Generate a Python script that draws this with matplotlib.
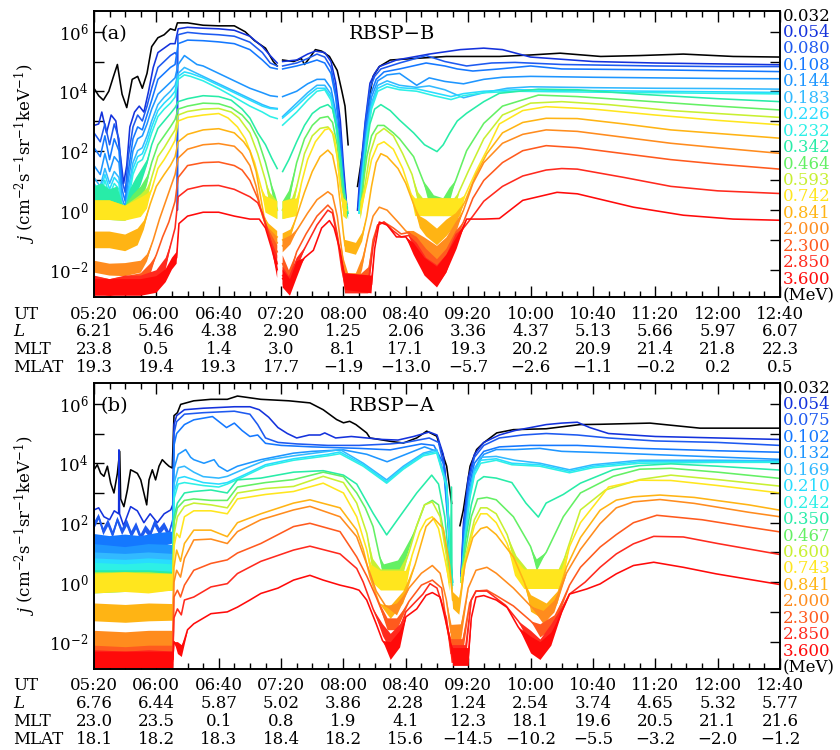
import numpy as np
import matplotlib
matplotlib.use("Agg")
import matplotlib.pyplot as plt
from matplotlib.ticker import FixedLocator, NullFormatter, FuncFormatter

plt.rcParams['font.family'] = ['DejaVu Serif']
plt.rcParams['mathtext.fontset'] = 'dejavuserif'

# ---------------- labels / table ----------------
UT = ['05:20', '06:00', '06:40', '07:20', '08:00', '08:40', '09:20', '10:00', '10:40', '11:20', '12:00', '12:40']
A_L = ['6.21', '5.46', '4.38', '2.90', '1.25', '2.06', '3.36', '4.37', '5.13', '5.66', '5.97', '6.07']
A_MLT = ['23.8', '0.5', '1.4', '3.0', '8.1', '17.1', '19.3', '20.2', '20.9', '21.4', '21.8', '22.3']
A_MLAT = ['19.3', '19.4', '19.3', '17.7', '\u22121.9', '\u221213.0', '\u22125.7', '\u22122.6', '\u22121.1', '\u22120.2', '0.2', '0.5']
B_L = ['6.76', '6.44', '5.87', '5.02', '3.86', '2.28', '1.24', '2.54', '3.74', '4.65', '5.32', '5.77']
B_MLT = ['23.0', '23.5', '0.1', '0.8', '1.9', '4.1', '12.3', '18.1', '19.6', '20.5', '21.1', '21.6']
B_MLAT = ['18.1', '18.2', '18.3', '18.4', '18.2', '15.6', '\u221214.5', '\u221210.2', '\u22125.5', '\u22123.2', '\u22122.0', '\u22121.2']

A_E = ['0.032', '0.054', '0.080', '0.108', '0.144', '0.183', '0.226', '0.232', '0.342', '0.464',
       '0.593', '0.742', '0.841', '2.000', '2.300', '2.850', '3.600']
B_E = ['0.032', '0.054', '0.075', '0.102', '0.132', '0.169', '0.210', '0.242', '0.350', '0.467',
       '0.600', '0.743', '0.841', '2.000', '2.300', '2.850', '3.600']
COLORS = ['#000000', '#1432dc', '#1e5af0', '#1478ff', '#1e96ff', '#32b9ff', '#28dcff', '#2df0e6',
          '#28eca8', '#64f064', '#c8f032', '#ffe61e', '#ffb414', '#ff8c1e', '#ff5a1e', '#ff2a1e', '#ff0a0a']

# ---------------- panel (a) RBSP-B : (minutes after 05:20, log10 j [, noise half-width]) ----------------
A00 = [(0,4.1),(3,3.85),(6,3.7),(9.5,4.0),(12.5,4.5),(15,4.9),(18,3.9),(21,3.45),(24.5,4.4),(28,4.5),(31,4.1),(34,4.6),(37,5.5),(41,5.8),(45,5.9),(49,6.1),(52,6.05),(53.5,6.3),(60,6.3),(70,6.22),(80,6.2),(90,6.2),(97,6.0),(103,5.7),(110,5.45),(115,5.0),(117.5,4.85),(118,None),(121,5.05),(128,5.0),(133,5.1),(135,4.9),(138,5.1),(142,5.4),(146,5.35),(151,5.17),(156,4.7),(159,4.0),(161,3.5),(163,2.2),(164,None),(169,0.8),(173,2.2),(176,3.6),(179,4.5),(183,4.83),(190,5.05),(205,5.1),(226,5.17),(248,5.17),(260,5.17),(280,5.22),(299,5.28),(325,5.17),(350,5.2),(378,5.25),(410,5.17),(440,5.15)]
A01 = [(0,2.85),(3,2.9),(5,3.3),(8,2.6),(11,3.2),(14,3.0),(17,1.8),(19,0.9),(21,1.5),(23,2.8),(26,3.3),(29,3.5),(32,3.3),(35,4.0),(38,4.8),(41,5.3),(45,5.45),(49,5.6),(52,5.6),(54,6.1),(60,6.15),(70,6.12),(80,6.1),(90,6.05),(100,5.85),(108,5.5),(113,5.2),(117.5,4.95),(118,None),(121,5.0),(130,5.05),(137,5.25),(142,5.35),(148,5.3),(152,5.0),(155,4.3),(158,3.0),(160,1.5),(162,0.2),(163,None),(169,0.0),(170.5,1.1),(174,3.0),(177,4.27),(180,4.6),(183,4.83),(194,5.05),(215,5.25),(235,5.4),(250,5.45),(262,5.4),(280,5.15),(320,5.0),(360,4.95),(400,4.92),(440,4.89)]
A02 = [(0,2.6),(4,2.3),(7,2.9),(10,2.2),(13,2.9),(16,2.4),(18,1.0),(20,0.6),(22,1.8),(25,2.8),(28,3.2),(31,3.0),(34,3.5),(37,4.1),(41,4.8),(45,5.0),(49,5.2),(52,5.3),(53.3,5.2),(53.5,0.0),(53.8,5.9),(60,5.98),(70,5.93),(80,5.9),(90,5.85),(100,5.65),(108,5.3),(113,4.95),(117.5,4.85),(118,None),(121,4.85),(130,4.95),(137,5.1),(143,5.25),(148,5.15),(152,4.8),(155,4.0),(158,2.6),(160,1.2),(162,0.1),(163,None),(169.5,0.1),(171,1.2),(174,2.9),(177,4.1),(180,4.5),(184,4.75),(196,4.95),(213,5.2),(225,5.0),(239,4.85),(255,4.95),(270,4.97),(300,4.9),(360,4.85),(400,4.83),(440,4.83)]
A03 = [(0,2.1),(4,1.8),(7,2.5),(10,1.7),(13,2.4),(16,2.0),(18,0.7),(20,0.3),(22,1.3),(25,2.4),(28,2.8),(31,2.7),(34,3.2),(37,3.7),(41,4.4),(45,4.6),(49,4.8),(52,4.9),(54,5.6),(60,5.72),(70,5.7),(80,5.66),(90,5.6),(100,5.4),(108,5.05),(113,4.8),(117.5,4.75),(118,None),(121,4.75),(130,4.85),(137,4.95),(143,5.05),(148,4.95),(152,4.6),(155,3.8),(158,2.3),(160,1.0),(162,0.0),(163,None),(170,0.2),(171.5,1.3),(174.5,2.8),(177.5,3.9),(181,4.4),(186,4.65),(196,4.75),(213,4.95),(225,4.85),(233,4.75),(243,4.68),(260,4.75),(280,4.85),(300,4.75),(360,4.72),(400,4.69),(440,4.66)]
A04 = [(0,1.5),(4,1.2),(7,1.9),(10,1.3),(13,1.8),(16,1.6),(18,0.4),(20,0.1),(22,1.0),(25,2.0),(28,2.4),(31,2.5),(34,2.9),(37,3.4),(41,3.9),(45,4.1),(49,4.3),(52,4.45),(54,4.9),(58,5.2),(62,5.05),(66,4.9),(70,4.85),(80,4.6),(90,4.35),(100,4.1),(108,3.95),(113,3.85),(117.5,3.82),(118,None),(121,3.82),(130,4.0),(137,4.25),(143,4.4),(148,4.4),(152,4.1),(155,3.3),(158,2.0),(160,0.9),(162,0.0),(163,None),(170,0.0),(172,1.3),(175,2.8),(178,3.8),(182,4.35),(188,4.55),(196,4.6),(207,4.2),(215,4.45),(225,4.33),(237,4.25),(250,4.4),(262,4.47),(280,4.5),(320,4.47),(360,4.45),(400,4.43),(440,4.42)]
A05 = [(0,1.1),(4,0.8),(7,1.4),(10,0.9),(13,1.3),(16,1.1),(18,0.2),(20,-0.1),(22,0.7),(25,1.6),(28,2.0),(31,2.1),(34,2.5),(37,3.0),(41,3.55),(45,3.8),(49,4.0),(52,4.2),(54,4.6),(58,4.8),(62,4.7),(70,4.5),(80,4.25),(90,4.0),(100,3.75),(108,3.55),(113,3.45),(117.5,3.42),(118,None),(121,3.15),(130,3.6),(137,3.95),(143,4.2),(148,4.2),(152,3.9),(155,3.1),(158,1.8),(160,0.7),(162,0.0),(163,None),(170,0.0),(172,1.2),(175,2.6),(178,3.6),(182,4.2),(188,4.35),(196,4.2),(207,4.13),(215,4.18),(225,4.05),(237,3.78),(250,3.95),(265,4.1),(280,4.15),(320,4.12),(360,4.1),(400,4.09),(440,4.07)]
A06 = [(0,0.9),(4,0.6),(7,1.2),(10,0.7),(13,1.1),(16,0.9),(18,0.0),(20,-0.2),(22,0.5),(25,1.4),(28,1.8),(31,1.9),(34,2.3),(37,2.8),(41,3.35),(45,3.6),(49,3.8),(52,4.0),(54,4.5),(58,4.65),(62,4.6),(70,4.45),(80,4.2),(90,3.95),(100,3.7),(108,3.5),(113,3.42),(117.5,3.4),(118,None),(121,3.1),(130,3.5),(137,3.85),(143,4.1),(148,4.1),(152,3.8),(155,3.0),(158,1.7),(160,0.6),(162,-0.1),(163,None),(170,-0.1),(172,1.1),(175,2.5),(178,3.5),(182,4.1),(188,4.25),(196,4.12),(207,4.08),(218,3.95),(229,3.82),(237,3.92),(250,4.0),(270,4.05),(320,4.02),(360,4.0),(400,3.98),(440,3.96)]
A07 = [(0,0.7),(4,0.4),(7,1.0),(10,0.5),(13,0.9),(16,0.7),(18,-0.1),(20,-0.3),(22,0.3),(25,1.2),(28,1.6),(31,1.7),(34,2.1),(37,2.6),(41,3.15),(45,3.4),(49,3.6),(52,3.8),(54,4.4),(58,4.55),(62,4.5),(70,4.35),(80,4.09),(90,3.8),(100,3.5),(108,3.3),(113,3.15),(117.5,3.08),(118,None),(121,2.86),(130,3.3),(137,3.7),(143,4.0),(148,4.05),(152,3.7),(155,2.9),(158,1.6),(160,0.5),(162,-0.1),(163,None),(170,-0.1),(172,1.0),(175,2.4),(178,3.4),(182,4.0),(188,4.15),(196,4.05),(207,4.0),(218,3.85),(229,3.72),(237,3.85),(250,3.95),(270,4.0),(320,3.97),(360,3.95),(400,3.93),(440,3.91)]
A08 = [(0,0.5,0.3),(5,0.6,0.3),(10,0.4,0.3),(15,0.5,0.3),(18,0.0,0.25),(20,-0.1,0.2),(23,0.4,0.3),(27,0.8,0.3),(30,1.1,0.25),(34,1.6,0.1),(37,2.2),(41,2.75),(45,3.0),(49,3.25),(52,3.45),(54,3.65),(60,3.75),(70,3.85),(80,3.82),(88,3.7),(95,3.4),(100,3.1),(105,2.6),(110,2.2),(114,1.75),(117.5,1.4),(118,None),(121,1.3),(125,1.7),(130,2.3),(135,2.85),(140,3.25),(145,3.45),(150,3.55),(153,3.4),(156,2.7),(158,1.8),(160,0.8),(161.5,0.2,0.25),(163,-0.1,0.2),(163.5,None),(171,0.0,0.2),(172.5,0.8),(174,1.8),(177,2.9),(180,3.4),(184,3.55),(190,3.35),(196,3.03),(205,2.6),(212,2.2),(220,1.97),(224,2.2),(228,2.58),(233,3.0),(239,3.26),(250,3.65),(260,3.93),(285,4.07),(310,4.05),(350,3.9),(400,3.75),(440,3.65)]
A09 = [(0,0.0,0.33),(10,0.0,0.33),(18,-0.1,0.25),(20,-0.1,0.25),(25,0.2,0.33),(30,0.5,0.3),(34,1.0,0.15),(37,1.6),(41,2.2),(45,2.5),(49,2.8),(52,3.05),(54,3.4),(60,3.5),(70,3.6),(80,3.58),(88,3.45),(95,3.2),(100,2.9),(105,2.4),(110,1.6),(113,1.0),(116,0.3,0.28),(117.5,0.0,0.3),(118,None),(121,0.0,0.3),(125,0.4,0.25),(130,1.6),(135,2.4),(140,2.85),(145,3.1),(150,3.15),(153,2.95),(156,2.2),(158,1.2),(160,0.3,0.28),(162,0.0,0.3),(163,None),(171,0.0,0.3),(173,1.0),(175,1.8),(178,2.5),(182,2.85),(186,2.85),(192,2.6),(196,2.4),(205,1.8),(211,1.0),(214,0.6,0.2),(218,0.2,0.3),(224,0.1,0.3),(228,0.5,0.25),(232,1.0),(239,2.0),(250,2.92),(262,3.5),(285,3.87),(310,3.82),(350,3.68),(400,3.5),(440,3.37)]
A10 = [(0,0.0,0.33),(10,0.0,0.33),(20,-0.1,0.25),(30,0.2,0.33),(34,0.5,0.25),(37,1.1),(41,1.8),(45,2.1),(49,2.45),(52,2.7),(54,3.2),(60,3.32),(70,3.4),(80,3.42),(88,3.3),(93,3.1),(100,2.6),(105,1.9),(110,1.0),(113,0.3,0.28),(117.5,0.0,0.3),(118,None),(121,0.0,0.3),(127,0.1,0.3),(131,1.0),(135,1.9),(140,2.5),(145,2.75),(150,2.8),(153,2.6),(156,1.8),(158,0.8),(160,0.1,0.3),(162,0.0,0.3),(163,None),(171,0.0,0.3),(174,0.9),(177,1.9),(181,2.55),(186,2.75),(192,2.5),(198,1.9),(204,1.2),(208,0.4,0.2),(211,0.1,0.3),(231,0.1,0.3),(234,0.6),(240,1.3),(250,2.4),(262,3.2),(280,3.6),(300,3.65),(330,3.55),(370,3.35),(400,3.25),(440,3.12)]
A11 = [(0,0.0,0.33),(10,0.0,0.33),(20,-0.1,0.25),(30,0.1,0.33),(34,0.3,0.25),(37,0.7),(41,1.4),(45,1.7),(49,2.05),(52,2.35),(54,3.0),(60,3.12),(70,3.2),(80,3.25),(86,3.1),(92,2.8),(97,2.4),(103,1.6),(107,0.8),(110,0.2,0.28),(117.5,0.0,0.3),(118,None),(121,0.0,0.3),(130,0.1,0.3),(133,0.9),(137,1.7),(142,2.3),(148,2.7),(151,2.75),(154,2.5),(156,1.8),(158,0.8),(160,0.1,0.3),(162,0.0,0.3),(163,None),(171,0.0,0.3),(175,0.9),(178,1.7),(182,2.2),(186,2.3),(192,2.05),(198,1.4),(203,0.6),(206,0.1,0.3),(235,0.1,0.3),(238,0.5),(245,1.3),(252,2.02),(260,2.9),(275,3.35),(290,3.48),(320,3.4),(360,3.2),(400,3.02),(440,2.87)]
A12 = [(0,-1.0,0.28),(10,-1.0,0.28),(20,-1.1,0.28),(28,-0.9,0.28),(32,-0.5,0.15),(36,0.2),(40,0.8),(45,1.2),(49,1.5),(52,1.8),(54,2.3),(60,2.55),(70,2.7),(80,2.74),(90,2.6),(96,2.3),(100,2.0),(104,1.3),(107,0.4),(109,-0.2),(112,-0.6,0.15),(117.5,-0.9,0.2),(118,None),(121,-1.0,0.22),(126,-0.8,0.15),(130,-0.2),(135,0.6),(140,1.3),(145,1.8),(150,2.02),(153,1.85),(156,1.1),(158,0.2),(160,-0.8),(161,-1.2,0.2),(168,-1.3,0.2),(172,-0.9,0.15),(175,-0.2),(178,0.8),(181,1.6),(184,1.9),(188,1.8),(195,1.4),(200,0.9),(205,0.2),(209,-0.4,0.2),(213,-0.6,0.28),(220,-0.9,0.28),(226,-0.6,0.28),(232,-0.3,0.2),(238,0.3),(245,1.2),(252,1.9),(262,2.6),(275,2.95),(290,3.09),(310,3.08),(340,2.9),(370,2.7),(400,2.58),(440,2.42)]
A13 = [(0,-1.9,0.2),(10,-2.0,0.2),(20,-2.0,0.22),(30,-1.9,0.2),(34,-1.6,0.12),(38,-1.0),(42,-0.3),(46,0.3),(50,0.9),(52,1.2),(54,1.75),(60,2.05),(70,2.2),(80,2.24),(90,2.15),(95,1.9),(100,1.5),(104,0.8),(107,0.0),(110,-0.5),(113,-0.8,0.15),(117.5,-1.1,0.2),(118,None),(121,-1.2,0.22),(126,-1.0,0.15),(131,-0.6),(137,-0.1),(143,0.35),(150,0.62),(153,0.5),(156,-0.2),(158,-1.0),(160,-1.8,0.2),(163,-2.4,0.28),(168,-2.4,0.28),(172,-1.8,0.2),(176,-0.8),(179,-0.2),(183,0.1),(188,0.0),(195,-0.4),(200,-0.7),(205,-0.9,0.2),(212,-1.2,0.28),(220,-1.5,0.3),(226,-1.2,0.28),(232,-0.6,0.2),(237,0.0),(243,0.9),(250,1.6),(262,2.25),(275,2.55),(290,2.7),(310,2.65),(340,2.45),(370,2.25),(400,2.1),(440,1.91)]
A14 = [(0,-2.5,0.28),(10,-2.6,0.28),(20,-2.5,0.28),(30,-2.4,0.28),(36,-2.0,0.2),(40,-1.5),(44,-0.9),(48,-0.4),(52,0.3),(54,1.1),(60,1.5),(70,1.6),(80,1.62),(90,1.5),(95,1.35),(100,1.0),(105,0.4),(108,-0.15),(112,-0.8,0.15),(117.5,-1.4,0.22),(118,None),(121,-1.8,0.28),(125,-2.3,0.28),(130,-1.4),(136,-0.8),(143,-0.2),(150,0.17),(153,0.0),(156,-0.8),(159,-1.8),(161,-2.4,0.28),(170,-2.5,0.3),(176,-2.2,0.28),(179,-1.0),(182,-0.5),(186,-0.4),(192,-0.6),(197,-0.8),(202,-0.75),(207,-1.1,0.2),(213,-1.6,0.3),(220,-2.0,0.35),(226,-1.6,0.3),(232,-0.9,0.2),(237,-0.4),(243,0.4),(250,1.0),(262,1.6),(275,2.0),(290,2.17),(310,2.1),(340,1.9),(370,1.7),(400,1.55),(440,1.38)]
A15 = [(0,-2.5,0.3),(10,-2.6,0.28),(20,-2.5,0.3),(30,-2.5,0.3),(40,-2.3,0.28),(46,-1.8,0.2),(50,-1.0),(52,-0.6),(54,0.45),(60,0.7),(70,0.82),(80,0.83),(90,0.7),(100,0.45),(105,0.25),(108,-0.1),(112,-0.8),(117.5,-1.8,0.28),(118,None),(121,-2.2,0.3),(125,-2.5,0.28),(130,-1.8,0.2),(136,-1.2),(143,-0.5),(150,0.0),(153,-0.1),(156,-0.9),(159,-2.0),(161,-2.5,0.3),(176,-2.5,0.3),(179,-1.2),(182,-0.5),(186,-0.4),(192,-0.7),(197,-0.9),(202,-0.85),(207,-1.3,0.2),(213,-1.9,0.3),(220,-2.2,0.35),(226,-1.8,0.3),(232,-1.0,0.2),(237,-0.6),(243,-0.2),(250,0.3),(262,0.8),(275,1.15),(290,1.35),(300,1.4),(310,1.38),(340,1.1),(370,0.8),(400,0.65),(440,0.56)]
A16 = [(0,-2.6,0.28),(10,-2.6,0.28),(20,-2.6,0.28),(30,-2.6,0.28),(40,-2.5,0.28),(46,-2.2,0.22),(50,-1.8,0.2),(53,-1.6,0.2),(54.5,-0.45),(60,-0.2),(70,-0.07),(80,-0.07),(90,-0.2),(100,-0.3),(106,-0.3),(110,-0.6),(114,-1.3),(117.5,-2.0,0.28),(118,None),(121,-2.3,0.3),(125.7,-2.6,0.28),(130,-2.0,0.28),(135,-1.6),(140.7,-1.35),(146,-0.6),(151,-0.35),(154,-0.6),(157.8,-1.35),(161,-2.4,0.28),(178,-2.5,0.3),(180,-1.3),(183,-0.4),(188,-0.5),(194,-0.9),(200,-0.9),(205,-1.3,0.2),(212,-1.9,0.3),(220,-2.25,0.35),(226,-1.8,0.3),(232.6,-1.1,0.2),(239,-0.3),(250,-0.3),(260,-0.28),(275,0.33),(297,0.6),(310,0.55),(346,0.1),(378,-0.17),(410,-0.3),(440,-0.34)]

# ---------------- panel (b) RBSP-A ----------------
B00 = [(0,3.78),(2.1,3.95),(4.3,3.66),(6.4,3.56),(8.6,3.9),(10.7,3.33),(12.8,3.0),(15,3.66),(16.5,4.4),(17.1,2.8),(19.2,2.54),(21.4,3.1),(23.5,3.78),(25.7,3.72),(27.8,3.66),(30,3.44),(32,3.0),(33.8,2.6),(35.3,3.44),(37.4,3.78),(39.5,3.44),(41.7,3.9),(43.8,4.12),(46,4.0),(48.1,3.9),(50.2,3.84),(51.3,5.6),(53.5,5.7),(55.6,5.98),(64,6.1),(75,6.15),(85.5,6.15),(92,6.26),(107,6.15),(125,6.1),(138.5,6.03),(147,5.8),(155.6,5.47),(160,5.36),(164,5.41),(168,5.3),(174.9,5.02),(177,4.85),(189.8,4.74),(198.4,4.68),(207,4.85),(213.4,5.08),(219.8,4.91),(226.2,3.9),(229.4,2.65),(230,None),(234.7,1.9),(236.9,2.43),(241.2,3.9),(245.4,4.46),(249.7,4.68),(258.3,5.02),(269,5.13),(290,5.16),(311.7,5.3),(324.6,5.31),(356.6,5.35),(388.7,5.18),(440,5.18)]
B01 = [(0,2.43),(3,2.5),(6.4,2.2),(10,2.1),(13,2.4),(15.8,2.3),(16,4.45),(16.4,2.3),(19,1.9),(23.5,2.54),(27.8,2.4),(32,2.0),(36,2.3),(40.6,2.0),(45,2.3),(49.2,2.43),(50.5,2.6),(51.3,5.3),(53,5.6),(58,5.8),(70,5.85),(90,5.9),(100,5.9),(106,5.8),(112,5.55),(118,5.2),(124,5.0),(130,4.85),(138,4.95),(145,4.95),(148,5.02),(155,4.85),(165,4.9),(175,4.85),(185,4.8),(195,4.78),(205,4.9),(215,5.05),(220,4.95),(224,4.3),(226.5,3.0),(228.5,1.0),(229.5,0.1),(230,None),(235.5,0.3),(237,2.0),(240,3.5),(244,4.3),(250,4.7),(260,4.95),(270,5.1),(280,5.2),(290,5.3),(300,5.35),(310,5.38),(318,5.2),(330,5.0),(360,4.9),(400,4.85),(440,4.8)]
B02 = [(0,1.9,0.12),(3,2.2,0.1),(6,1.7,0.12),(9,2.0,0.12),(12,1.6,0.12),(15,2.1,0.1),(18,1.7,0.12),(21,2.0,0.12),(24,1.6,0.12),(27,1.9,0.12),(30,1.5,0.12),(33,1.8,0.12),(36,1.6,0.12),(39,2.0,0.12),(42,1.7,0.12),(45,1.9,0.12),(48,1.6,0.12),(50.5,2.1),(51.3,5.0),(53,5.4),(58,5.65),(70,5.7),(90,5.75),(100,5.65),(105,5.3),(110,4.85),(118,4.7),(130,4.65),(150,4.6),(170,4.6),(190,4.65),(200,4.7),(215,4.85),(221,4.7),(225,3.8),(227.5,2.0),(229,0.3),(229.5,None),(235.5,0.2),(237,1.8),(240,3.3),(244,4.2),(250,4.6),(260,4.85),(275,4.95),(290,5.0),(310,4.95),(330,4.85),(360,4.75),(400,4.7),(440,4.6)]
B03 = [(0,1.4,0.22),(10,1.3,0.25),(20,1.35,0.25),(30,1.3,0.25),(40,1.4,0.25),(50.5,1.5,0.2),(51.3,4.6),(53,5.0),(58,5.3),(64,5.46),(76,5.57),(85,5.2),(90,5.35),(95,5.1),(100,4.9),(105,4.95),(110,4.67),(120,4.6),(140,4.55),(170,4.5),(190,4.45),(210,4.65),(218,4.6),(224,4.0),(227,2.0),(229,0.2),(229.5,None),(235.5,0.2),(237,1.6),(240,3.1),(244,4.0),(250,4.4),(260,4.55),(280,4.6),(310,4.6),(350,4.5),(400,4.42),(440,4.37)]
B04 = [(0,1.0,0.28),(20,0.9,0.28),(35,1.0,0.28),(50.5,1.0,0.25),(51.3,3.8),(54,4.3),(58.8,4.46),(62,4.2),(64,4.12),(70.5,4.0),(77,4.12),(80,3.9),(85.5,3.73),(92,3.9),(107,4.12),(128,4.34),(140,4.4),(160,4.45),(175,4.3),(188,4.05),(200,4.3),(212,4.55),(220,4.4),(225,3.5),(228,1.5),(229.5,0.0),(230,None),(235.5,0.0),(237.5,1.4),(240,2.9),(244,3.8),(250,4.3),(258,4.46),(270,4.46),(286,4.5),(300,4.4),(330,4.35),(380,4.25),(440,4.13)]
B05 = [(0,0.7,0.3),(20,0.65,0.3),(35,0.7,0.3),(50.5,0.7,0.25),(51.3,3.3),(54,3.85),(58,3.9),(64,3.7),(70,3.55),(80,3.5),(85.5,3.56),(96,3.8),(110,4.1),(128,4.25),(150,4.4),(157.8,4.46),(172.7,4.0),(187.7,3.44),(198.4,3.9),(211.2,4.34),(219.8,4.46),(226.2,3.33),(228.5,1.0),(230,0.0),(230.5,None),(235.5,0.0),(238,1.6),(241,3.0),(244,3.8),(248,4.2),(258,4.23),(270,4.1),(286,4.0),(305,3.78),(320,3.95),(350,4.1),(400,4.1),(440,4.08)]
B06 = [(0,0.5,0.3),(20,0.45,0.3),(35,0.5,0.3),(50.5,0.5,0.25),(51.3,3.0),(54,3.5),(58,3.55),(64,3.45),(70,3.35),(80,3.3),(85.5,3.35),(96,3.6),(110,3.95),(128,4.15),(150,4.3),(157.8,4.38),(172.7,3.95),(187.7,3.38),(198.4,3.85),(211.2,4.3),(219.8,4.4),(226.2,3.25),(228.5,0.9),(230,0.0),(230.5,None),(235.5,0.0),(238,1.5),(241,2.9),(244,3.7),(248,4.1),(258,4.15),(268,4.0),(286,3.95),(305,3.73),(320,3.9),(350,4.05),(400,4.06),(440,4.05)]
B07 = [(0,0.35,0.3),(20,0.3,0.3),(35,0.35,0.3),(50.5,0.35,0.25),(51.3,2.8),(54,3.3),(58,3.35),(64,3.3),(70,3.25),(80,3.2),(85.5,3.3),(96,3.55),(110,3.9),(128,4.1),(150,4.25),(157.8,4.32),(172.7,3.9),(187.7,3.33),(198.4,3.8),(211.2,4.25),(219.8,4.35),(226.2,3.2),(228.5,0.8),(230,-0.1),(230.5,None),(235.5,0.0),(238,1.4),(241,2.8),(244,3.6),(248,4.0),(258,4.1),(268,3.95),(286,3.9),(305,3.68),(320,3.85),(350,4.0),(400,4.03),(440,4.03)]
B08 = [(0,0.1,0.3),(20,0.1,0.3),(35,0.1,0.3),(50.5,0.1,0.25),(51.3,2.2),(53.5,2.66),(58,3.0),(64,3.05),(75,3.1),(85.5,3.0),(92,3.44),(107,3.5),(128,3.7),(147,3.75),(160,3.6),(168.5,3.3),(179,2.32),(187.7,1.59),(196,2.2),(207,3.0),(216.6,3.6),(221,3.3),(225,2.2),(228.5,0.3),(229.3,3.2),(229.6,-0.2),(230,None),(235.5,0.0),(238,1.3),(242,2.6),(246,3.4),(250,3.55),(258,3.5),(268,3.35),(277,2.66),(285,2.19),(290,2.66),(301,2.95),(312,3.33),(333,3.78),(350,3.92),(370,3.98),(400,3.9),(440,3.77)]
B09 = [(0,-0.05,0.33),(20,0.0,0.33),(35,0.0,0.33),(50.5,0.0,0.28),(51.3,2.0),(53.5,2.5),(58,2.75),(64,2.8),(75,2.75),(85.5,2.75),(92,3.2),(110,3.35),(128,3.45),(147,3.7),(160,3.55),(168.5,3.0),(174,2.5),(179,1.87),(183,0.9),(186,0.3,0.3),(195,0.4,0.33),(198,0.7,0.28),(206,1.75),(212,2.6),(217,2.75),(221,2.6),(225,1.5),(228,0.3,0.3),(230,None),(235.5,0.1,0.3),(238,1.0),(242,2.2),(246,2.8),(252,2.85),(258,2.77),(269,2.2),(280,1.2),(284,0.57,0.2),(290,1.0),(301,2.2),(312,3.0),(333,3.56),(350,3.8),(370,3.83),(400,3.7),(440,3.49)]
B10 = [(0,0.0,0.33),(20,0.0,0.33),(35,0.0,0.33),(50.5,0.0,0.28),(51.3,1.6),(53.5,2.2),(58,2.55),(64,2.66),(75,2.6),(85.5,2.5),(92,3.0),(110,3.15),(128,3.22),(147,3.56),(160,3.35),(168.5,2.66),(175,1.64),(179,0.5,0.28),(184,0.1,0.33),(196,0.1,0.33),(202,1.0),(207,1.9),(212,2.6),(217,2.7),(222,2.2),(226,0.9),(228,0.0,0.3),(230,None),(235.5,0.1,0.3),(239,1.0),(244,2.1),(248,2.5),(252,2.5),(258,2.3),(265,1.6),(271,0.6,0.28),(278,0.1,0.33),(298,0.1,0.33),(303,1.0),(312,2.43),(328,3.1),(350,3.45),(370,3.6),(400,3.45),(440,3.23)]
B11 = [(0,-0.05,0.33),(20,0.0,0.33),(35,-0.05,0.33),(50.5,0.0,0.28),(51.3,1.2),(53,1.64),(55,1.5),(58,2.2),(64,2.4),(75,2.4),(85.5,2.3),(92,2.8),(110,2.95),(128,3.05),(147,3.33),(160,3.0),(168.5,2.2),(175,1.08),(178,0.3,0.28),(184,0.05,0.33),(200,0.05,0.33),(204,0.9),(209,1.7),(213,2.09),(217,2.2),(221,1.8),(225,0.8),(228,0.0,0.3),(230,None),(235.5,0.0,0.3),(239,0.9),(244,1.9),(248,2.3),(252,2.3),(258,2.0),(265,1.3),(270,0.5,0.28),(276,0.1,0.33),(300,0.1,0.33),(305,1.2),(312,2.0),(330,3.2),(350,3.43),(370,3.42),(400,3.25),(440,3.0)]
B12 = [(0,-1.0,0.3),(20,-1.05,0.3),(35,-1.0,0.3),(50.5,-1.0,0.28),(51.3,0.5),(53,1.08),(55.5,0.7),(58,1.3),(64,1.75),(75,1.75),(85.5,1.53),(92,2.0),(107,2.3),(128,2.66),(138.5,2.77),(157.8,2.5),(168.5,1.75),(172.7,1.1),(177,0.18),(183,-0.72),(190,-1.0,0.22),(198,-0.5,0.2),(206,0.6),(213,1.87),(218,2.15),(224,1.8),(228,0.6),(230,-0.6,0.28),(234,-0.8,0.28),(238,0.6),(243,1.5),(248,1.8),(252,1.86),(258,1.6),(269,0.85),(276,0.0),(280,-0.7,0.28),(290,-1.0,0.3),(297,-0.5,0.2),(303,0.5),(312,1.5),(324.6,2.42),(335,2.76),(346,2.87),(363,2.93),(385,2.85),(420,2.6),(440,2.42)]
B13 = [(0,-1.9,0.28),(20,-1.95,0.28),(35,-1.9,0.28),(50.5,-1.9,0.28),(51.3,0.0),(53,0.4),(55.5,0.17),(58,0.8),(64,1.42),(75,1.45),(85.5,1.3),(92,1.7),(107,2.1),(128,2.43),(138.5,2.55),(157.8,2.2),(168.5,1.53),(175,0.6),(181,-0.3),(187,-0.8),(194,-0.9,0.2),(202,-0.2),(210,0.3),(217,0.56),(222,0.3),(226,-0.6),(229,-1.7,0.28),(235,-1.7,0.3),(240,-0.2),(245,0.4),(252,0.5),(258,0.3),(269,-0.2),(280,-0.8),(288,-1.17,0.22),(295,-0.8,0.2),(303,0.3),(312,1.1),(324.6,1.97),(335,2.5),(346,2.7),(363,2.78),(385,2.65),(420,2.35),(440,2.2)]
B14 = [(0,-2.4,0.28),(20,-2.45,0.28),(35,-2.4,0.28),(50.5,-2.4,0.28),(51.3,-0.5),(53.5,-0.27),(55.5,-0.5),(58,-0.1),(64,0.4),(75,0.63),(85.5,0.75),(92,0.98),(107,1.3),(128,1.87),(138.5,1.98),(157.8,1.7),(168.5,0.85),(175,0.2),(181,-0.5),(188,-1.4,0.2),(194,-1.4,0.2),(202,-0.65),(210,-0.1),(217,0.07),(223,-0.2),(226,-1.4),(229,-2.2,0.3),(236,-2.2,0.3),(241,-0.7),(245,-0.3),(252,-0.27),(258,-0.45),(269,-0.8),(280,-1.3),(286,-1.62,0.22),(295,-1.3,0.2),(305,-0.1),(312,0.5),(324.6,1.18),(335,1.6),(346,2.0),(361,2.25),(390,2.1),(420,1.85),(440,1.69)]
B15 = [(0,-2.55,0.28),(20,-2.6,0.28),(35,-2.55,0.28),(50.5,-2.6,0.28),(51.3,-1.2),(53.5,-0.9),(56,-1.1),(58,-0.6),(64,-0.5),(75,-0.16),(85.5,-0.05),(92,0.29),(107,0.7),(128,1.08),(138.5,1.21),(157.8,0.95),(168.5,0.46),(172.7,0.0),(179,-0.9),(185,-1.6,0.2),(190,-2.0,0.28),(196,-1.6,0.2),(200,-1.0),(211,-0.4),(215.5,-0.05),(220,-0.2),(226,-1.2),(229,-2.4,0.3),(238,-2.4,0.3),(242,-0.6),(245,-0.3),(252,-0.3),(264,-0.78),(272,-1.3),(280,-1.9,0.28),(286,-2.19,0.28),(293,-1.6,0.2),(305,-0.4),(315,0.0),(324.6,0.5),(335,0.95),(346,1.29),(359,1.54),(378,1.52),(400,1.3),(440,0.93)]
B16 = [(0,-2.6,0.28),(20,-2.6,0.28),(35,-2.6,0.28),(50.5,-2.6,0.28),(51.3,-2.0),(53.5,-2.2,0.2),(56,-2.3,0.2),(60,-1.6),(64,-1.4),(75,-1.06),(85.5,-1.0),(92,-0.84),(100,-0.6),(107,-0.38),(118,-0.2),(128,0.07),(138.5,0.23),(147,0.07),(157.8,-0.1),(166,-0.2),(170,-0.27),(174.9,-0.6),(181,-1.4),(185,-1.96),(190,-2.3,0.3),(196,-1.9,0.28),(200,-1.17),(207,-0.9),(213,-0.44),(217,-0.35),(222,-0.5),(226,-1.4),(228.5,-2.0),(230,-2.5,0.3),(240,-2.5,0.3),(242,-1.2),(245,-0.5),(250,-0.45),(258,-0.6),(265,-0.85),(272,-1.5),(280,-2.1,0.28),(286,-2.3,0.3),(293,-1.9,0.22),(300,-1.0),(305,-0.4),(316,-0.23),(324.6,-0.06),(335,0.28),(346,0.56),(359,0.67),(378,0.5),(399,0.28),(440,-0.08)]

A_CH = [A00, A01, A02, A03, A04, A05, A06, A07, A08, A09, A10, A11, A12, A13, A14, A15, A16]
B_CH = [B00, B01, B02, B03, B04, B05, B06, B07, B08, B09, B10, B11, B12, B13, B14, B15, B16]


def unpack(knots):
    t, v, w = [], [], []
    for k in knots:
        t.append(k[0])
        if k[1] is None:
            v.append(np.nan)
            w.append(0.0)
        else:
            v.append(k[1])
            w.append(k[2] if len(k) > 2 else 0.0)
    return np.array(t, float), np.array(v, float), np.array(w, float)


W, H = 840, 750
fig = plt.figure(figsize=(8.4, 7.5), dpi=100)

YMIN, YMAX = 1.2e-3, 5.0e6
ROW_OFF = [17, 35, 52.5, 70]  # pixels below axes bottom for UT, L, MLT, MLAT


def panel(top_px, chans, energies, tag, name, L, MLT, MLAT):
    left, right, bottom = 94, 780, top_px + 286
    ax = fig.add_axes([left / W, 1 - bottom / H, (right - left) / W, 286 / H])
    for i, kn in enumerate(chans):
        t, v, w = unpack(kn)
        c = COLORS[i]
        if np.any(w > 0):
            ax.fill_between(t, 10 ** (v - w), 10 ** (v + w), color=c, lw=0,
                            zorder=2 + i * 0.01)
        ax.plot(t, 10 ** v, color=c, lw=1.15, zorder=2 + i * 0.01, solid_joinstyle='round')
    ax.set_yscale('log')
    ax.set_ylim(YMIN, YMAX)
    ax.set_xlim(0, 440)
    ax.xaxis.set_major_locator(FixedLocator(np.arange(0, 441, 40)))
    ax.xaxis.set_minor_locator(FixedLocator(np.arange(0, 441, 10)))
    ax.xaxis.set_major_formatter(NullFormatter())
    ax.yaxis.set_major_locator(FixedLocator([10.0 ** k for k in range(-2, 7)]))
    ax.yaxis.set_minor_locator(FixedLocator([]))
    ax.yaxis.set_major_formatter(FuncFormatter(
        lambda y, p: (r'$10^{%d}$' % round(np.log10(y))) if round(np.log10(y)) % 2 == 0 else ''))
    ax.tick_params(axis='both', which='both', direction='in', top=True, right=True, width=1.0)
    ax.tick_params(axis='x', which='major', length=8)
    ax.tick_params(axis='x', which='minor', length=4)
    ax.tick_params(axis='y', which='major', length=7, labelsize=12, pad=4)
    for s in ax.spines.values():
        s.set_linewidth(1.4)
    ax.set_ylabel(r'$j$ (cm$^{-2}$s$^{-1}$sr$^{-1}$keV$^{-1}$)', fontsize=12, labelpad=4)
    ax.yaxis.set_label_coords(-0.082, 0.5)
    ax.text(0.009, 0.921, tag, transform=ax.transAxes, fontsize=14, va='center', ha='left')
    ax.text(0.434, 0.918, name, transform=ax.transAxes, fontsize=14, va='center', ha='center')
    # energy labels
    for i, e in enumerate(energies):
        yy = 0.9825 - i * 0.0575
        ax.text(1.004, yy, e, transform=ax.transAxes, color=COLORS[i], fontsize=12,
                va='center', ha='left')
    ax.text(1.004, 0.9825 - 17 * 0.0575, '(MeV)', transform=ax.transAxes, color='k',
            fontsize=12, va='center', ha='left')
    # table
    rows = [('UT', UT), ('$L$', L), ('MLT', MLT), ('MLAT', MLAT)]
    for r, (lab, vals) in enumerate(rows):
        yfig = 1 - (bottom + ROW_OFF[r]) / H
        fig.text(13 / W, yfig, lab, fontsize=12, va='center', ha='left')
        for k, s in enumerate(vals):
            xfig = (left + k * (right - left) / 11) / W
            fig.text(xfig, yfig, s, fontsize=12, va='center', ha='center')
    return ax


panel(11, A_CH, A_E, '(a)', 'RBSP\u2212B', A_L, A_MLT, A_MLAT)
panel(383, B_CH, B_E, '(b)', 'RBSP\u2212A', B_L, B_MLT, B_MLAT)

fig.savefig('out.png', dpi=100)
